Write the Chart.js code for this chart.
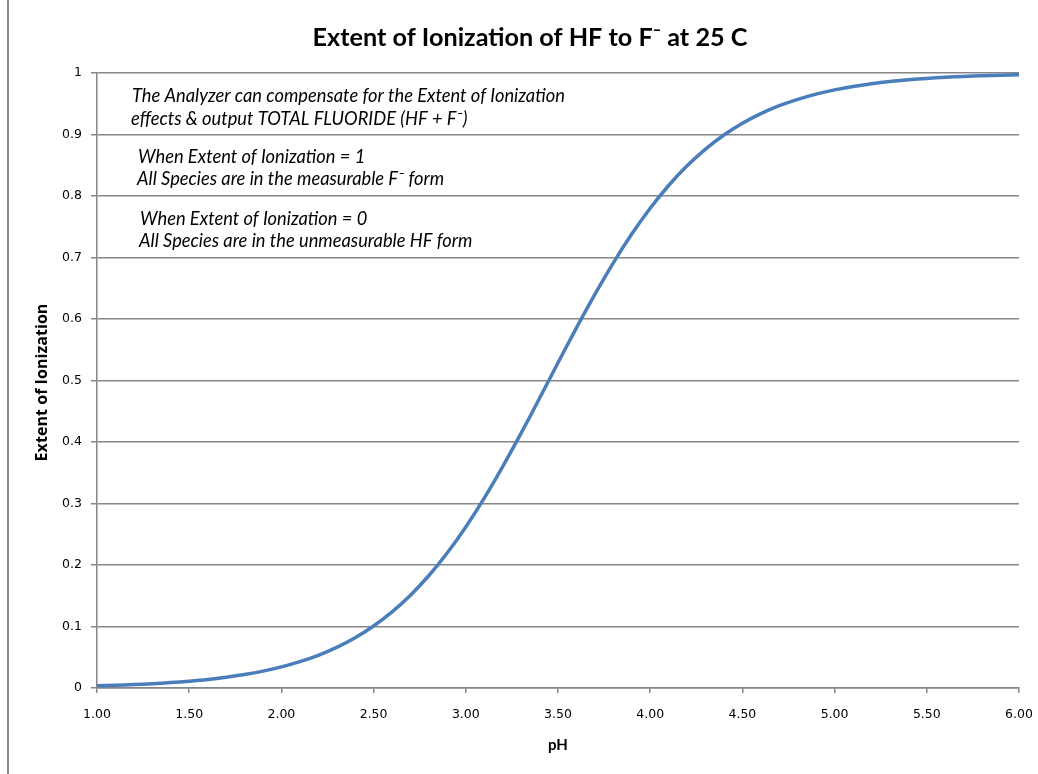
<!DOCTYPE html>
<html>
<head>
<meta charset="utf-8">
<script src="https://cdn.jsdelivr.net/npm/chart.js@4.4.1/dist/chart.umd.min.js"></script>
<style>
  html, body { margin: 0; padding: 0; background: #fff; }
  #wrap { width: 1038px; height: 774px; position: relative; }
</style>
</head>
<body>
<div id="wrap"><canvas id="c" width="1038" height="774"></canvas></div>
<script>
const pH = [1.0,1.1,1.2,1.3,1.4,1.5,1.6,1.7,1.8,1.9,2.0,2.1,2.2,2.3,2.4,2.5,2.6,2.7,2.8,2.9,3.0,3.1,3.2,3.3,3.4,3.5,3.6,3.7,3.8,3.9,4.0,4.1,4.2,4.3,4.4,4.5,4.6,4.7,4.8,4.9,5.0,5.1,5.2,5.3,5.4,5.5,5.6,5.7,5.8,5.9,6.0];
const extent = [0.0035,0.0045,0.0056,0.0070,0.0088,0.0111,0.0139,0.0175,0.0219,0.0274,0.0343,0.0428,0.0532,0.0661,0.0818,0.1009,0.1238,0.1510,0.1829,0.2199,0.2619,0.3087,0.3600,0.4144,0.4712,0.5288,0.5856,0.6400,0.6913,0.7381,0.7801,0.8171,0.8490,0.8762,0.8991,0.9182,0.9339,0.9468,0.9572,0.9657,0.9726,0.9781,0.9825,0.9861,0.9889,0.9912,0.9930,0.9944,0.9956,0.9965,0.9972];
const xTicks = [1.0,1.5,2.0,2.5,3.0,3.5,4.0,4.5,5.0,5.5,6.0];
const yTicks = [0,0.1,0.2,0.3,0.4,0.5,0.6,0.7,0.8,0.9,1];
const titleText = 'Extent of Ionization of HF to F\u207B at 25 C';
const xTitle = 'pH';
const yTitle = 'Extent of Ionization';
const notes = [
  'The Analyzer can compensate for the Extent of Ionization',
  'effects & output TOTAL FLUORIDE (HF + F\u207B)',
  'When Extent of Ionization = 1',
  'All Species are in the measurable F\u207B form',
  'When Extent of Ionization = 0',
  'All Species are in the unmeasurable HF form'
];
const noteX = [132, 131, 138, 137, 140, 139];
const noteY = [96, 119, 157, 179, 219, 241];

const GRID = '#868686';

function fitFont(ctx, text, style, family, target) {
  ctx.font = style + ' 20px ' + family;
  const w = ctx.measureText(text).width;
  const size = 20 * target / w;
  return style + ' ' + size.toFixed(2) + 'px ' + family;
}

const decor = {
  id: 'decor',
  beforeDraw(chart) {
    const ctx = chart.ctx;
    ctx.save();
    ctx.strokeStyle = GRID;
    ctx.lineWidth = 2;
    ctx.beginPath();
    ctx.moveTo(8, 0);
    ctx.lineTo(8, 774);
    ctx.stroke();
    ctx.restore();
  },
  afterDraw(chart) {
    const ctx = chart.ctx;
    const a = chart.chartArea;
    ctx.save();
    ctx.fillStyle = '#000';
    ctx.textBaseline = 'middle';
    // title
    ctx.textAlign = 'center';
    ctx.font = fitFont(ctx, titleText, 'bold', 'Lato, sans-serif', 435);
    ctx.fillText(titleText, 530, 38);
    // x title
    ctx.font = 'bold 15px Lato, sans-serif';
    ctx.fillText(xTitle, (a.left + a.right) / 2, 745);
    // y title
    ctx.save();
    ctx.translate(42, (a.top + a.bottom) / 2 + 2);
    ctx.rotate(-Math.PI / 2);
    ctx.font = fitFont(ctx, yTitle, 'bold', '"Open Sans", sans-serif', 158);
    ctx.fillText(yTitle, 0, 0);
    ctx.restore();
    // notes
    ctx.textAlign = 'left';
    ctx.font = fitFont(ctx, notes[0], 'italic', 'Lato, sans-serif', 433);
    notes.forEach((t, i) => ctx.fillText(t, noteX[i], noteY[i]));
    ctx.restore();
  }
};

new Chart(document.getElementById('c'), {
  type: 'line',
  data: {
    datasets: [{
      data: pH.map((x, i) => ({x: x, y: extent[i]})),
      borderColor: '#4A7EBB',
      borderWidth: 3.5,
      pointRadius: 0,
      tension: 0.3,
      fill: false
    }]
  },
  options: {
    responsive: false,
    animation: false,
    layout: { padding: { left: 0, right: 19, top: 73, bottom: 0 } },
    plugins: {
      legend: { display: false },
      tooltip: { enabled: false },
      title: { display: false }
    },
    scales: {
      x: {
        type: 'linear',
        min: 1, max: 6,
        afterBuildTicks(s) { s.ticks = xTicks.map(v => ({value: v})); },
        afterFit(s) { s.height = 86; s.paddingLeft = 0; s.paddingRight = 0; },
        ticks: {
          color: '#000',
          font: { family: 'DejaVu Sans', size: 12.5 },
          padding: 14,
          maxRotation: 0,
          autoSkip: false,
          callback: v => Number(v).toFixed(2)
        },
        grid: { drawOnChartArea: false, drawTicks: true, tickLength: 5, color: GRID, lineWidth: 1.5 },
        border: { display: true, color: GRID, width: 1.5 }
      },
      y: {
        min: 0, max: 1,
        afterBuildTicks(s) { s.ticks = yTicks.map(v => ({value: v})); },
        afterFit(s) { s.width = 97; s.paddingTop = 0; s.paddingBottom = 0; },
        ticks: {
          color: '#000',
          font: { family: 'DejaVu Sans', size: 12.5 },
          padding: 9,
          autoSkip: false,
          callback: v => String(Math.round(v * 10) / 10)
        },
        grid: { drawTicks: true, tickLength: 6, color: GRID, lineWidth: 1.5 },
        border: { display: true, color: GRID, width: 1.5 }
      }
    }
  },
  plugins: [decor]
});
</script>
</body>
</html>
